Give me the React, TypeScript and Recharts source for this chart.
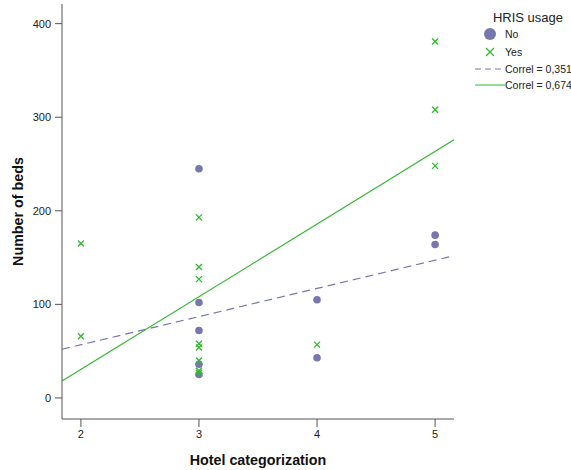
import React from 'react';
import {
  ScatterChart,
  Scatter,
  XAxis,
  YAxis,
  ReferenceLine,
} from 'recharts';

// Hotel categorization (x) vs number of beds (y), split by HRIS usage
const noCategory = [3, 3, 3, 3, 3, 4, 4, 5, 5];
const noBeds = [245, 102, 72, 36, 25, 105, 43, 174, 164];

const yesCategory = [2, 2, 3, 3, 3, 3, 3, 3, 3, 3, 4, 5, 5, 5];
const yesBeds = [165, 66, 193, 140, 127, 58, 54, 40, 29, 27, 57, 381, 308, 248];

// fit lines at the edges of the plot
const fitX = [1.84, 5.16];
const fitNo = [52, 152];
const fitYes = [18, 276];

const xTicks = [2, 3, 4, 5];
const yTicks = [0, 100, 200, 300, 400];

const PURPLE = '#7777ae';
const GREEN = '#33b833';
const AXIS = '#555555';
const FONT = '"Liberation Sans", Arial, sans-serif';

const noData = noCategory.map((c, i) => ({ x: c, y: noBeds[i] }));
const yesData = yesCategory.map((c, i) => ({ x: c, y: yesBeds[i] }));

const Cross = (props: any) => {
  const { cx, cy } = props;
  const s = 3;
  return (
    <g stroke={GREEN} strokeWidth={1.3}>
      <line x1={cx - s} y1={cy - s} x2={cx + s} y2={cy + s} />
      <line x1={cx - s} y1={cy + s} x2={cx + s} y2={cy - s} />
    </g>
  );
};

const Dot = (props: any) => {
  const { cx, cy } = props;
  return <circle cx={cx} cy={cy} r={3.8} fill={PURPLE} />;
};

// legend drawn beside the plot, top right
const LegendBox = () => (
  <svg width={100} height={95} style={{ fontFamily: FONT, display: 'block' }}>
    <text x={55} y={22} fontSize={13} textAnchor="middle" fill="#222">HRIS usage</text>
    <circle cx={17} cy={34} r={6} fill={PURPLE} />
    <text x={32} y={38} fontSize={10.5} fill="#222">No</text>
    <g stroke={GREEN} strokeWidth={1.2}>
      <line x1={13} y1={48} x2={21} y2={56} />
      <line x1={13} y1={56} x2={21} y2={48} />
    </g>
    <text x={32} y={56} fontSize={10.5} fill="#222">Yes</text>
    <line x1={2} y1={69} x2={32} y2={69} stroke={PURPLE} strokeDasharray="6 4" />
    <text x={32} y={73} fontSize={10.5} fill="#222">Correl = 0,351</text>
    <line x1={2} y1={85} x2={32} y2={85} stroke={GREEN} />
    <text x={32} y={89} fontSize={10.5} fill="#222">Correl = 0,674</text>
  </svg>
);

export default function App() {
  return (
    <div style={{ position: 'absolute', left: 0, top: 0, width: 571, height: 470, background: '#fff' }}>
      <ScatterChart
        width={571}
        height={470}
        margin={{ top: 4, right: 117, left: 0, bottom: 0 }}
      >
        <XAxis
          type="number"
          dataKey="x"
          domain={[1.84, 5.16]}
          ticks={xTicks}
          allowDataOverflow
          height={51}
          stroke={AXIS}
          tickSize={8}
          tickMargin={3}
          tick={{ fill: '#222', fontSize: 11, fontFamily: FONT }}
          label={{
            value: 'Hotel categorization',
            position: 'insideBottom',
            offset: 5,
            style: { fontWeight: 'bold', fontSize: 14.3, fill: '#111', fontFamily: FONT },
          }}
        />
        <YAxis
          type="number"
          dataKey="y"
          domain={[-22.5, 421]}
          ticks={yTicks}
          allowDataOverflow
          width={62}
          stroke={AXIS}
          tickSize={7}
          tickMargin={4}
          tick={{ fill: '#222', fontSize: 11, fontFamily: FONT }}
          label={{
            value: 'Number of beds',
            angle: -90,
            position: 'insideLeft',
            offset: 18,
            style: { textAnchor: 'middle', fontWeight: 'bold', fontSize: 14.3, fill: '#111', fontFamily: FONT },
          }}
        />
        <ReferenceLine
          segment={[
            { x: fitX[0], y: fitNo[0] },
            { x: fitX[1], y: fitNo[1] },
          ]}
          stroke={PURPLE}
          strokeWidth={1.2}
          strokeDasharray="8 5"
        />
        <ReferenceLine
          segment={[
            { x: fitX[0], y: fitYes[0] },
            { x: fitX[1], y: fitYes[1] },
          ]}
          stroke={GREEN}
          strokeWidth={1.2}
        />
        <Scatter name="No" data={noData} shape={<Dot />} isAnimationActive={false} />
        <Scatter name="Yes" data={yesData} shape={<Cross />} isAnimationActive={false} />
      </ScatterChart>
      <div style={{ position: 'absolute', left: 473, top: 0 }}>
        <LegendBox />
      </div>
    </div>
  );
}
